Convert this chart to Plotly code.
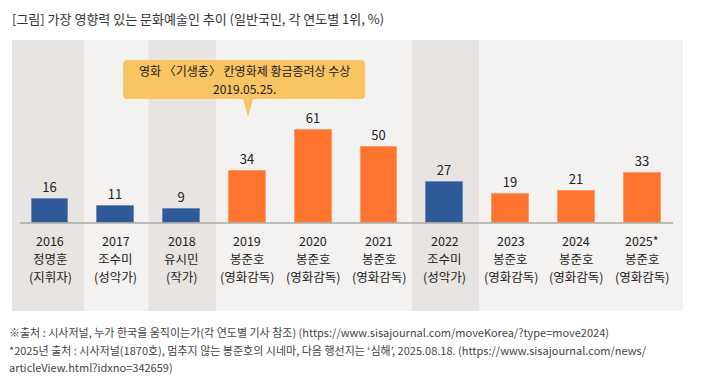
import plotly.graph_objects as go

years = ["2016", "2017", "2018", "2019", "2020", "2021", "2022", "2023", "2024", "2025*"]
names = ["정명훈", "조수미", "유시민", "봉준호", "봉준호", "봉준호", "조수미", "봉준호", "봉준호", "봉준호"]
roles = ["(지휘자)", "(성악가)", "(작가)", "(영화감독)", "(영화감독)", "(영화감독)", "(성악가)", "(영화감독)", "(영화감독)", "(영화감독)"]
values = [16, 11, 9, 34, 61, 50, 27, 19, 21, 33]
shaded_years = ["2016", "2018", "2022"]
callout_year = "2019"
callout_lines = ["영화 〈기생충〉 칸영화제 황금종려상 수상", "2019.05.25."]
title_text = "[그림] 가장 영향력 있는 문화예술인 추이 (일반국민, 각 연도별 1위, %)"
notes = [
    "※출처 : 시사저널, 누가 한국을 움직이는가(각 연도별 기사 참조) (https://www.sisajournal.com/moveKorea/?type=move2024)",
    "*2025년 출처 : 시사저널(1870호), 멈추지 않는 봉준호의 시네마, 다음 행선지는 ‘심해’, 2025.08.18. (https://www.sisajournal.com/news/",
    "articleView.html?idxno=342659)",
]

BLUE = "#2e5a9a"
ORANGE = "#ff742e"
FONT = "Noto Sans CJK KR"

W, H = 702, 382
ML, MR, MT, MB = 12, 19, 40, 71
PW, PH = W - ML - MR, H - MT - MB


def px_x(p):
    return (p - ML) / PW


def px_y(p):
    return (H - MB - p) / PH


x = list(range(len(years)))
colors = [ORANGE if n == "봉준호" else BLUE for n in names]
line_colors = ["#ff9a66" if n == "봉준호" else "#6d8cbc" for n in names]

fig = go.Figure()
fig.add_trace(go.Bar(
    x=x, y=values, width=0.56,
    marker=dict(color=colors, line=dict(color=line_colors, width=1)),
    text=[str(v) for v in values], textposition="outside",
    textfont=dict(size=13, color="#222", family=FONT),
    cliponaxis=False, hoverinfo="skip",
))

XR = [-0.5775, 9.62]
YR = [-57.5, 119.6]

shapes = []
for i, yv in enumerate(years):
    if yv in shaded_years:
        x0 = XR[0] if i == 0 else i - 0.5
        shapes.append(dict(type="rect", xref="x", yref="paper", x0=x0, x1=i + 0.52,
                           y0=0, y1=1, fillcolor="#e8e4e1", line=dict(width=0), layer="below"))
# baseline
shapes.append(dict(type="line", xref="x", yref="y", x0=-0.46, x1=9.47, y0=0, y1=0,
                   line=dict(color="#aaaaaa", width=1.5)))

# callout bubble
ci = years.index(callout_year)
bx0, bx1 = ci - 1.89, ci + 1.79
by0, by1 = 81.0, 106.5
rx, ry = 0.07, 3.0
tip_y = 69.3
tw = 0.075
path = (f"M {bx0+rx},{by1} L {bx1-rx},{by1} Q {bx1},{by1} {bx1},{by1-ry} "
        f"L {bx1},{by0+ry} Q {bx1},{by0} {bx1-rx},{by0} "
        f"L {ci+tw+0.01},{by0} L {ci+0.01},{tip_y} L {ci-tw+0.01},{by0} "
        f"L {bx0+rx},{by0} Q {bx0},{by0} {bx0},{by0+ry} "
        f"L {bx0},{by1-ry} Q {bx0},{by1} {bx0+rx},{by1} Z")
shapes.append(dict(type="path", xref="x", yref="y", path=path,
                   fillcolor="#f9c462", line=dict(width=0), layer="above"))

annotations = []
cy = (by0 + by1) / 2
for j, t in enumerate(callout_lines):
    annotations.append(dict(x=(bx0 + bx1) / 2, y=cy, xref="x", yref="y",
                            yshift=8.75 - 17.5 * j, yanchor="middle", borderpad=0,
                            text=t, showarrow=False,
                            font=dict(size=12, color="#1a1a1a", family=FONT)))
for i in x:
    for j, t in enumerate([years[i], names[i], roles[i]]):
        annotations.append(dict(x=i, y=0, xref="x", yref="y", yanchor="middle",
                                yshift=-(17.5 + 18 * j), borderpad=0,
                                text=t, showarrow=False,
                                font=dict(size=12.5, color="#222", family=FONT)))
annotations.append(dict(x=px_x(10), y=px_y(19), xref="paper", yref="paper",
                        xanchor="left", yanchor="middle", text=title_text, showarrow=False,
                        font=dict(size=13, color="#333", family=FONT)))
for k, t in enumerate(notes):
    annotations.append(dict(x=px_x(8), y=px_y(332 + 17.5 * k), xref="paper", yref="paper",
                            xanchor="left", yanchor="middle", text=t, showarrow=False,
                            borderpad=0,
                            font=dict(size=11, color="#444", family=FONT)))

fig.update_layout(
    width=W, height=H,
    margin=dict(l=ML, r=MR, t=MT, b=MB),
    paper_bgcolor="white", plot_bgcolor="#f3f2f0",
    xaxis=dict(range=XR, showticklabels=False, showgrid=False, zeroline=False, fixedrange=True),
    yaxis=dict(range=YR, showticklabels=False, showgrid=False, zeroline=False, fixedrange=True),
    shapes=shapes, annotations=annotations,
    showlegend=False, bargap=0,
    font=dict(family=FONT),
)

fig.write_html("out.html", config={"displayModeBar": False},
               post_script="document.body.style.margin='0';")
